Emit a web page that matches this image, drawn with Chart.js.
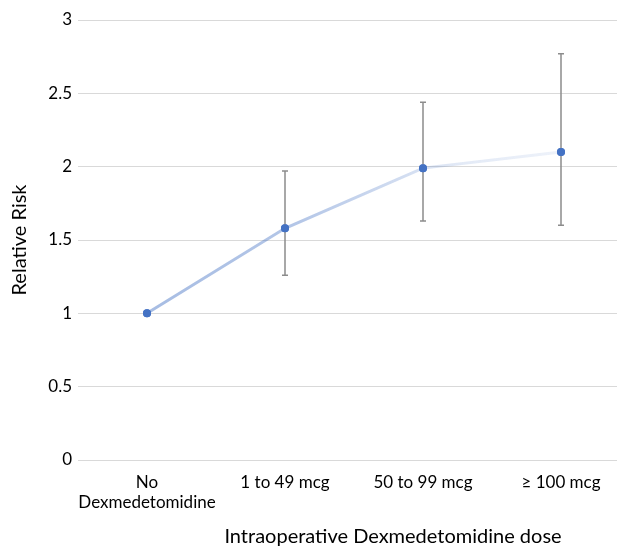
<!DOCTYPE html>
<html>
<head>
<meta charset="utf-8">
<script src="https://cdn.jsdelivr.net/npm/chart.js@4"></script>
<style>
  html, body { margin: 0; padding: 0; overflow: hidden; background: #fff; }
</style>
</head>
<body>
<canvas id="rrchart" width="640" height="547"></canvas>
<script>
// relative risk by intraoperative dexmedetomidine dose
const doses = [["No", "Dexmedetomidine"], "1 to 49 mcg", "50 to 99 mcg", "\u2265 100 mcg"];
const risk = [1, 1.58, 1.99, 2.1];
const ciLow = [null, 1.26, 1.63, 1.60];
const ciHigh = [null, 1.97, 2.44, 2.77];
const yTicks = [0, 0.5, 1, 1.5, 2, 2.5, 3];

const fontFamily = "Lato, 'Open Sans', sans-serif";

// error bars drawn through the chart scales
const errorBars = {
    id: "errorBars",
    afterDatasetsDraw(chart) {
        const ctx = chart.ctx;
        const xs = chart.scales.x, ys = chart.scales.y;
        ctx.save();
        ctx.strokeStyle = "#8c8c8c";
        ctx.lineWidth = 1.5;
        for (let i = 0; i < risk.length; i++) {
            if (ciLow[i] == null) continue;
            const x = xs.getPixelForValue(i);
            const y1 = ys.getPixelForValue(ciLow[i]);
            const y2 = ys.getPixelForValue(ciHigh[i]);
            ctx.beginPath();
            ctx.moveTo(x, y1); ctx.lineTo(x, y2);
            ctx.moveTo(x - 3, y1); ctx.lineTo(x + 3, y1);
            ctx.moveTo(x - 3, y2); ctx.lineTo(x + 3, y2);
            ctx.stroke();
        }
        ctx.restore();
        // redraw points on top of the bars
        chart.getDatasetMeta(0).data.forEach(p => p.draw(ctx, chart.chartArea));
    }
};

// x axis title, placed like the original
const xTitle = {
    id: "xTitle",
    afterDraw(chart) {
        const ctx = chart.ctx;
        ctx.save();
        ctx.font = "20px " + fontFamily;
        ctx.fillStyle = "#000";
        ctx.textAlign = "center";
        ctx.textBaseline = "middle";
        ctx.fillText("Intraoperative Dexmedetomidine dose", 393, 537);
        ctx.restore();
    }
};

function lineGradient(context) {
    const area = context.chart.chartArea;
    if (!area) return "rgba(68,114,196,0.4)";
    const g = context.chart.ctx.createLinearGradient(area.left, 0, area.right, 0);
    g.addColorStop(0, "rgba(68,114,196,0.50)");
    g.addColorStop(0.4, "rgba(68,114,196,0.40)");
    g.addColorStop(0.7, "rgba(68,114,196,0.15)");
    g.addColorStop(1, "rgba(68,114,196,0.05)");
    return g;
}

new Chart("rrchart", {
    type: "line",
    data: {
        labels: doses,
        datasets: [
            {
                label: "Relative Risk",
                data: risk,
                borderColor: lineGradient,
                borderWidth: 3,
                pointRadius: 4,
                pointBackgroundColor: "#4472c4",
                pointBorderColor: "#4472c4",
                pointBorderWidth: 0,
                tension: 0
            }
        ]
    },
    options: {
        responsive: false,
        animation: false,
        layout: { padding: { top: 20, right: 10, left: 0, bottom: 0 } },
        plugins: {
            legend: { display: false },
            tooltip: { enabled: false }
        },
        scales: {
            x: {
                offset: true,
                grid: { display: false, drawTicks: false },
                border: { display: false },
                ticks: {
                    color: "#000",
                    font: { family: fontFamily, size: 17 },
                    padding: 12,
                    maxRotation: 0,
                    autoSkip: false
                },
                afterFit(scale) { scale.height = 87; }
            },
            y: {
                min: 0,
                max: 3,
                afterBuildTicks(scale) { scale.ticks = yTicks.map(v => ({ value: v })); },
                grid: { color: "#d9d9d9", lineWidth: 1, drawTicks: false },
                border: { display: false },
                ticks: {
                    color: "#000",
                    font: { family: fontFamily, size: 17 },
                    padding: 6,
                    callback: v => String(v)
                },
                title: {
                    display: true,
                    text: "Relative Risk",
                    color: "#000",
                    font: { family: fontFamily, size: 20 },
                    padding: { top: 8, bottom: 0 }
                },
                afterFit(scale) { scale.width = 78; }
            }
        }
    },
    plugins: [errorBars, xTitle]
});
</script>
</body>
</html>
